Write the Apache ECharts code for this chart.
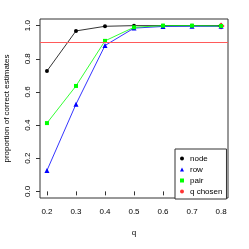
<!DOCTYPE html>
<html><head><meta charset="utf-8">
<script src="https://cdn.jsdelivr.net/npm/echarts@6/dist/echarts.min.js"></script>
<style>html,body{margin:0;padding:0;background:#fff}#c{width:249px;height:249px}</style>
</head><body><div id="c"></div>
<script>
var qValues = [0.2, 0.3, 0.4, 0.5, 0.6, 0.7, 0.8];
var nodeVals = [0.726, 0.968, 0.996, 1.0, 1.0, 1.0, 1.0];
var rowVals = [0.126, 0.526, 0.880, 0.985, 0.995, 0.996, 0.996];
var pairVals = [0.412, 0.636, 0.908, 0.990, 1.0, 1.0, 0.998];
var chosenQ = [0.8];
var chosenVals = [0.998];
var threshold = 0.9;
var xTicks = [0.2, 0.3, 0.4, 0.5, 0.6, 0.7, 0.8];
var yTicks = [0.0, 0.2, 0.4, 0.6, 0.8, 1.0];
var seriesNames = ['node', 'row', 'pair', 'q chosen'];

function pairs(xs, ys) { return xs.map(function (x, i) { return [x, ys[i]]; }); }
var font = 'Liberation Sans';
var chart = echarts.init(document.getElementById('c'), null, {renderer: 'canvas'});
chart.setOption({
  animation: false,
  textStyle: {fontFamily: font},
  grid: {left: 40, top: 19, right: 21, bottom: 51, outerBoundsMode: 'none', containLabel: false,
         show: true, borderColor: '#333', borderWidth: 1, backgroundColor: 'transparent'},
  xAxis: {
    type: 'value', min: 0.176, max: 0.824,
    name: 'q', nameLocation: 'middle', nameGap: 31,
    nameTextStyle: {fontSize: 8, color: '#000', fontFamily: font},
    axisLine: {show: false},
    splitLine: {show: false},
    axisTick: {show: true, length: 4, lineStyle: {color: '#333'}, customValues: xTicks},
    axisLabel: {fontSize: 8, color: '#000', margin: 10, customValues: xTicks, formatter: function (v) { return v.toFixed(1); }}
  },
  yAxis: {
    type: 'value', min: -0.04, max: 1.04,
    name: 'proportion of correct estimates', nameLocation: 'middle', nameGap: 29,
    nameTextStyle: {fontSize: 8, color: '#000', fontFamily: font},
    axisLine: {show: false},
    splitLine: {show: false},
    axisTick: {show: true, length: 4, lineStyle: {color: '#333'}, customValues: yTicks},
    axisLabel: {fontSize: 8, color: '#000', margin: 8, rotate: 90, customValues: yTicks, formatter: function (v) { return v.toFixed(1); }}
  },
  legend: {
    orient: 'vertical', left: 175, top: 149, width: 53,
    padding: [5, 4, 3, 5], itemGap: 2, itemWidth: 4, itemHeight: 4,
    borderColor: '#333', borderWidth: 1, borderRadius: 0, backgroundColor: '#fff',
    textStyle: {fontSize: 8, color: '#000', fontFamily: font, padding: [0, 0, 0, 1], lineHeight: 9},
    data: [
      {name: seriesNames[0], icon: 'circle', itemStyle: {color: '#000'}},
      {name: seriesNames[1], icon: 'triangle', itemStyle: {color: '#0000ff'}},
      {name: seriesNames[2], icon: 'rect', itemStyle: {color: '#00ff00'}},
      {name: seriesNames[3], icon: 'circle', itemStyle: {color: '#ff0000'}}
    ]
  },
  series: [
    {name: seriesNames[0], type: 'line', data: pairs(qValues, nodeVals), symbol: 'circle', symbolSize: 4,
     lineStyle: {color: '#000', width: 0.8}, itemStyle: {color: '#000'},
     markLine: {silent: true, symbol: 'none', label: {show: false}, lineStyle: {color: '#ff5a5a', width: 1, type: 'solid'}, data: [{yAxis: threshold}]}},
    {name: seriesNames[1], type: 'line', data: pairs(qValues, rowVals), symbol: 'triangle', symbolSize: 5,
     lineStyle: {color: '#0000ff', width: 0.8}, itemStyle: {color: '#0000ff'}},
    {name: seriesNames[2], type: 'line', data: pairs(qValues, pairVals), symbol: 'rect', symbolSize: 4,
     lineStyle: {color: '#00ff00', width: 0.8}, itemStyle: {color: '#00ff00'}},
    {name: seriesNames[3], type: 'scatter', data: pairs(chosenQ, chosenVals), symbol: 'diamond', symbolSize: 7,
     itemStyle: {color: '#ff0000'}}
  ]
});
</script></body></html>
